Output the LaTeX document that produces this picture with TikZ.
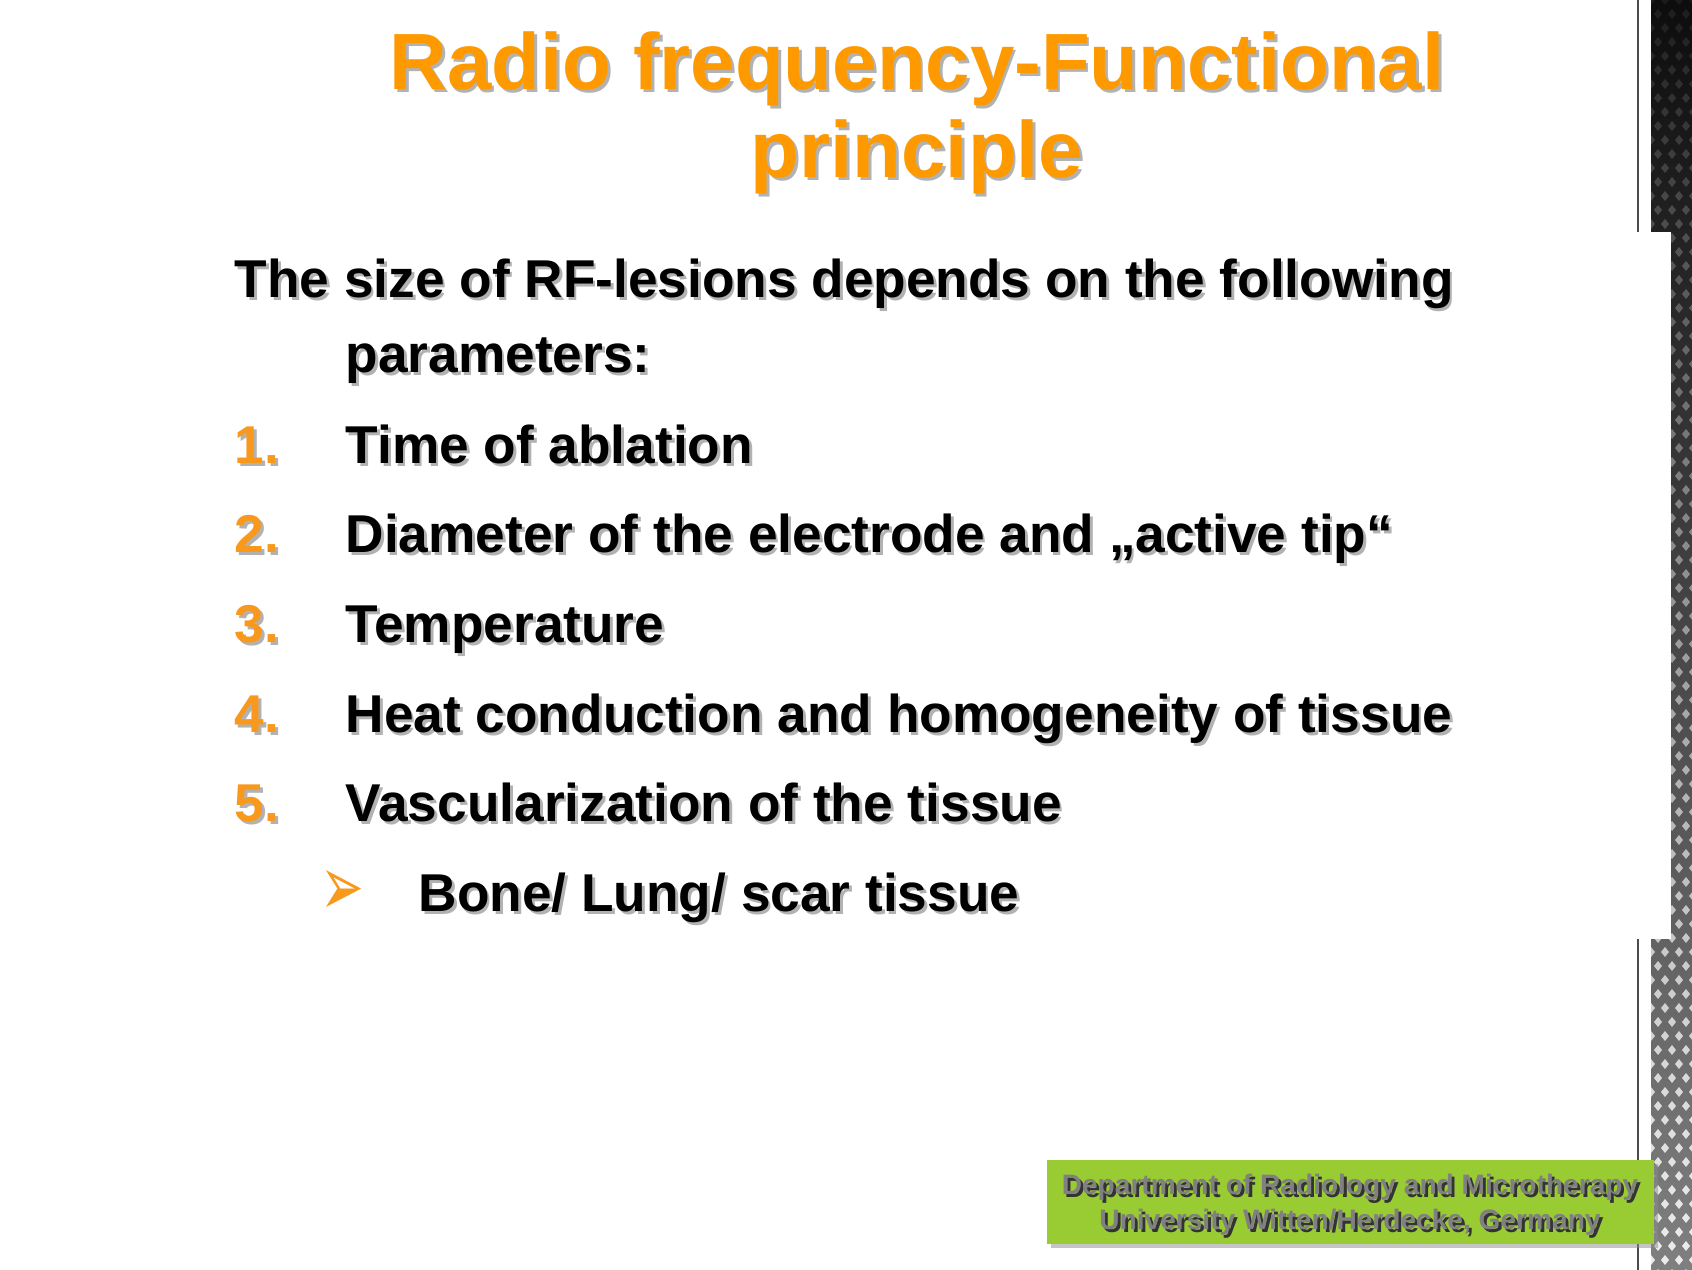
\documentclass[tikz,border=0pt]{standalone}
\usepackage{fontspec}
\setmainfont{Liberation Sans}
\newfontfamily\symfont{DejaVu Sans}
\usetikzlibrary{positioning,shadows}

\definecolor{titleorange}{HTML}{FF9900}
\definecolor{numorange}{HTML}{F8991D}
\definecolor{deptgreen}{HTML}{99CC33}

% text with a small grey drop shadow
\newcommand{\shad}[2][black!30]{\makebox[0pt][l]{\kern0.8pt\raisebox{-0.8pt}{\textcolor{#1}{#2}}}#2}

\begin{document}
\begin{tikzpicture}[x=0.1mm, y=-0.1mm,
  title/.style={anchor=base, inner sep=0pt, text=titleorange, font=\fontsize{22.7}{27}\selectfont\bfseries},
  body/.style={anchor=base west, inner sep=0pt, font=\fontsize{15.15}{18}\selectfont\bfseries},
  num/.style={body, text=numorange},
  dept/.style={fill=deptgreen, minimum width=60.7mm, minimum height=8.4mm, inner sep=0pt,
    align=center, text=black!50, text depth=0pt, font=\fontsize{8}{9.8}\selectfont\bfseries,
    drop shadow={shadow xshift=0.4mm, shadow yshift=-0.4mm, fill=black!45}},
]

\useasboundingbox (0,0) rectangle (1692,1270);

% right border strip
\shade[top color=black!95, bottom color=black!50] (1651,0) rectangle (1692,1270);
\begin{scope}
\clip (1651,0) rectangle (1692,1270);
\foreach \r [evaluate=\r as \op using 0.06+0.8*\r/91] in {0,...,91}
  \foreach \c in {0,1,2,3} {
    \pgfmathsetmacro{\cx}{1651+\c*14+mod(\r,2)*7}
    \fill[white, opacity=\op] (\cx,\r*14-5) -- (\cx+4,\r*14) -- (\cx,\r*14+5) -- (\cx-4,\r*14) -- cycle;
  }
\end{scope}
\draw[black!70, line width=0.25mm] (1638,0) -- (1638,1270);
\fill[white] (1560,232) rectangle (1671,939);

% title
\node[title] (title1) at (917,90) {\shad{Radio frequency-Functional}};
\node[title] (title2) at (917,178) {\shad{principle}};

% parameters
\node[body] (intro1) at (234,298) {\shad{The size of RF-lesions depends on the following}};
\node[body] (intro2) at (345,373) {\shad{parameters:}};

\node[num] (n1) at (234,464) {\shad{1.}};
\node[body] (p1) at (345,464) {\shad{Time of ablation}};
\node[num] (n2) at (234,553) {\shad{2.}};
\node[body] (p2) at (345,553) {\shad{Diameter of the electrode and „active tip“}};
\node[num] (n3) at (234,643) {\shad{3.}};
\node[body] (p3) at (345,643) {\shad{Temperature}};
\node[num] (n4) at (234,733) {\shad{4.}};
\node[body] (p4) at (345,733) {\shad{Heat conduction and homogeneity of tissue}};
\node[num] (n5) at (234,822) {\shad{5.}};
\node[body] (p5) at (345,822) {\shad{Vascularization of the tissue}};

\node[num, font=\fontsize{24}{26}\selectfont\symfont] (b1) at (320,916) {\scalebox{0.62}[1]{➢}};
\node[body] (s1) at (418,912) {\shad{Bone/ Lung/ scar tissue}};

% department box
\node[dept] (dept) at (1350,1202) {\shad[black!80]{Department of Radiology and Microtherapy}\\
  \shad[black!80]{University Witten/Herdecke, Germany}};

\end{tikzpicture}
\end{document}
